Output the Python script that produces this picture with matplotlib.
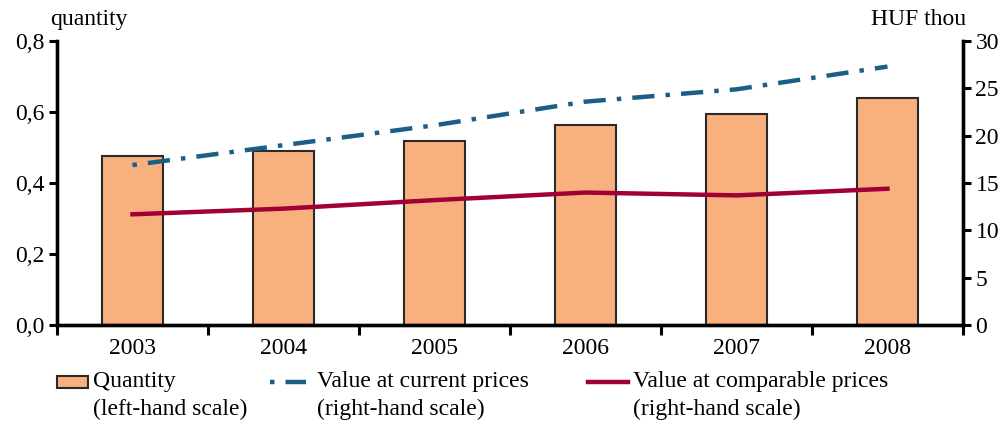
import numpy as np
import matplotlib
matplotlib.use("Agg")
import matplotlib.pyplot as plt
from matplotlib.patches import Rectangle
from matplotlib.lines import Line2D

years = ["2003", "2004", "2005", "2006", "2007", "2008"]
quantity = [0.476, 0.490, 0.518, 0.563, 0.594, 0.639]
value_current = [16.9, 19.0, 21.1, 23.6, 24.9, 27.3]
value_comparable = [11.7, 12.3, 13.2, 14.0, 13.7, 14.4]

bar_col = "#F9B07F"
blue = "#1B5E86"
red = "#A00034"

plt.rcParams["font.family"] = ["Liberation Serif", "DejaVu Serif"]
fs = 17

fig = plt.figure(figsize=(10.03, 4.25), dpi=100)
ax = fig.add_axes([0.0568, 0.235, 0.9033, 0.6685])
ax2 = ax.twinx()

x = np.arange(len(years))
ax.bar(x, quantity, width=0.4, color=bar_col, edgecolor="#2a2a2a", linewidth=1.5, zorder=2)
ax2.plot(x, value_current, color=blue, lw=3.2, dashes=(1, 2.5, 5, 2.5), zorder=3)
ax2.plot(x, value_comparable, color=red, lw=3.2, zorder=3)

ax.set_xlim(-0.5, 5.5)
ax.set_ylim(0, 0.8)
ax2.set_ylim(0, 30)
ax.set_yticks(np.arange(0, 0.81, 0.2))
ax.set_yticklabels([f"{v:.1f}".replace(".", ",") for v in np.arange(0, 0.81, 0.2)])
ax2.set_yticks(range(0, 31, 5))

ax.set_xticks(x)
ax.set_xticklabels(years)
ax.set_xticks(np.arange(-0.5, 5.6, 1), minor=True)
ax.tick_params(axis="x", which="major", length=0, labelsize=fs, pad=9)
ax.tick_params(axis="x", which="minor", length=7, width=2.2, direction="out")
ax.tick_params(axis="y", length=6, width=2.2, labelsize=fs, pad=3)
ax2.tick_params(axis="y", length=6, width=2.2, labelsize=fs, pad=3)

for a in (ax, ax2):
    a.spines["top"].set_visible(False)
    for s in ("left", "right", "bottom"):
        a.spines[s].set_linewidth(2.4)
ax.set_zorder(ax2.get_zorder() - 1)
ax2.patch.set_visible(False)

fig.text(0.050, 0.955, "quantity", fontsize=fs, ha="left", va="center")
fig.text(0.963, 0.955, "HUF thou", fontsize=fs, ha="right", va="center")

# legend, drawn by hand so the handle sits on the first line
W, H = 1003.0, 425.0
fig.add_artist(Rectangle((57 / W, 1 - 388 / H), 31 / W, 12 / H, transform=fig.transFigure,
                         facecolor=bar_col, edgecolor="#2a2a2a", linewidth=1.5))
fig.add_artist(Line2D([270 / W, 306 / W], [1 - 382 / H] * 2, transform=fig.transFigure,
                      color=blue, lw=3.2, dashes=(1, 2.5, 5, 2.5)))
fig.add_artist(Line2D([588 / W, 628 / W], [1 - 382 / H] * 2, transform=fig.transFigure,
                      color=red, lw=3.2))
labels = [("Quantity", "(left-hand scale)", 93),
          ("Value at current prices", "(right-hand scale)", 317),
          ("Value at comparable prices", "(right-hand scale)", 633)]
for l1, l2, px in labels:
    fig.text(px / W, 1 - 381 / H, l1, fontsize=fs, ha="left", va="center")
    fig.text(px / W, 1 - 409 / H, l2, fontsize=fs, ha="left", va="center")

fig.savefig("out.png", dpi=100)
